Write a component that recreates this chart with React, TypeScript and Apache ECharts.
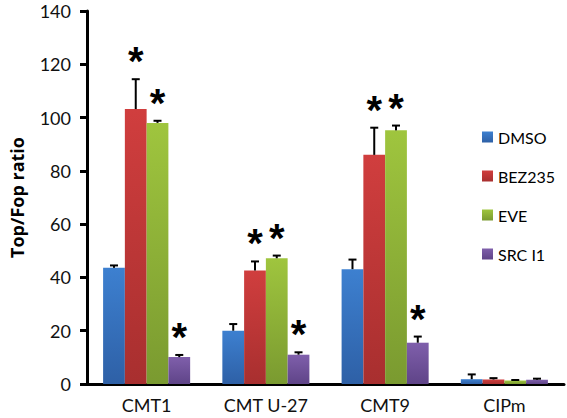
import React, { useEffect, useRef } from "react";
import * as echarts from "echarts";

const categories = ["CMT1", "CMT U-27", "CMT9", "CIPm"];
const seriesNames = ["DMSO", "BEZ235", "EVE", "SRC I1"];
const dmso = [43.6, 20.0, 43.1, 1.8];
const bez235 = [103.2, 42.6, 86.0, 1.7];
const eve = [98.0, 47.2, 95.2, 1.3];
const srcI1 = [10.1, 11.0, 15.5, 1.6];
const dmsoErr = [0.9, 2.5, 3.6, 1.8];
const bez235Err = [11.2, 3.4, 10.2, 0.5];
const eveErr = [0.8, 1.0, 1.8, 0.2];
const srcI1Err = [0.8, 0.9, 2.3, 0.4];
const dmsoSig = [false, false, false, false];
const bez235Sig = [true, true, true, false];
const eveSig = [true, true, true, false];
const srcI1Sig = [true, true, true, false];
const yTicks = [0, 20, 40, 60, 80, 100, 120, 140];

const values = [dmso, bez235, eve, srcI1];
const errs = [dmsoErr, bez235Err, eveErr, srcI1Err];
const sigs = [dmsoSig, bez235Sig, eveSig, srcI1Sig];
const colorsTop = ["#3d80d0", "#d03e3e", "#9fc53e", "#7f5fab"];
const colorsBottom = ["#2e60a6", "#a82f2f", "#7a9a30", "#5f4488"];

const CAT_GAP = 0.27;

export default function App() {
  const ref = useRef<HTMLDivElement>(null);
  useEffect(() => {
    if (!ref.current) return;
    const chart = echarts.init(ref.current, null, { renderer: "svg" });
    const font = "Lato, 'Liberation Sans', sans-serif";
    const barSeries = seriesNames.map((name, i) => ({
      name,
      type: "bar",
      data: values[i],
      barGap: "0%",
      barCategoryGap: CAT_GAP * 100 + "%",
      itemStyle: {
        color: new echarts.graphic.LinearGradient(0, 0, 0, 1, [
          { offset: 0, color: colorsTop[i] },
          { offset: 1, color: colorsBottom[i] },
        ]),
      },
    }));
    const errSeries = seriesNames.map((name, i) => ({
      name: name + "_err",
      type: "custom",
      z: 5,
      data: values[i].map((v, j) => [j, v, v + errs[i][j], sigs[i][j] ? 1 : 0]),
      renderItem: (params: any, api: any) => {
        const idx = api.value(0);
        const base = api.coord([idx, api.value(1)]);
        const top = api.coord([idx, api.value(2)]);
        const catW = api.size([1, 0])[0];
        const bw = (catW * (1 - CAT_GAP)) / 4;
        const x = base[0] + (i - 1.5) * bw;
        const cap = 4;
        const children: any[] = [
          { type: "line", shape: { x1: x, y1: base[1], x2: x, y2: top[1] }, style: { stroke: "#000", lineWidth: 2 } },
          { type: "line", shape: { x1: x - cap, y1: top[1], x2: x + cap, y2: top[1] }, style: { stroke: "#000", lineWidth: 2 } },
        ];
        if (api.value(3)) {
          children.push({
            type: "text",
            x: x,
            y: top[1] - 18,
            style: {
              text: "*",
              fontSize: 40,
              fontWeight: "bold",
              fontFamily: "'Liberation Sans', Arial, sans-serif",
              fill: "#000",
              align: "center",
              verticalAlign: "middle",
            },
          });
        }
        return { type: "group", children };
      },
    }));
    chart.setOption({
      animation: false,
      grid: { left: 78, top: 11, right: 3, bottom: 34, containLabel: false },
      legend: {
        data: seriesNames,
        orient: "vertical",
        left: 477,
        top: 124,
        itemWidth: 11,
        itemHeight: 11,
        itemGap: 23,
        icon: "rect",
        textStyle: { fontSize: 16, fontFamily: font, color: "#000" },
      },
      xAxis: {
        type: "category",
        data: categories,
        axisLine: { lineStyle: { color: "#000", width: 3 } },
        axisTick: { lineStyle: { color: "#000", width: 3 }, length: 6 },
        axisLabel: { fontSize: 18, fontFamily: font, color: "#111", margin: 12 },
      },
      yAxis: {
        type: "value",
        min: 0,
        max: 140,
        interval: 20,
        name: "Top/Fop ratio",
        nameLocation: "middle",
        nameGap: 61,
        nameTextStyle: { fontSize: 18, fontWeight: "bold", fontFamily: "'Open Sans', sans-serif", color: "#000" },
        splitLine: { show: false },
        axisLine: { show: true, lineStyle: { color: "#000", width: 3 } },
        axisTick: { show: true, lineStyle: { color: "#000", width: 3 }, length: 7 },
        axisLabel: { fontSize: 18, fontFamily: font, color: "#111", margin: 16, formatter: (v: number) => (yTicks.includes(v) ? String(v) : "") },
      },
      series: [...barSeries, ...errSeries],
    });
    return () => chart.dispose();
  }, []);
  return <div ref={ref} style={{ width: 567, height: 418, position: "absolute", left: 0, top: 0 }} />;
}
